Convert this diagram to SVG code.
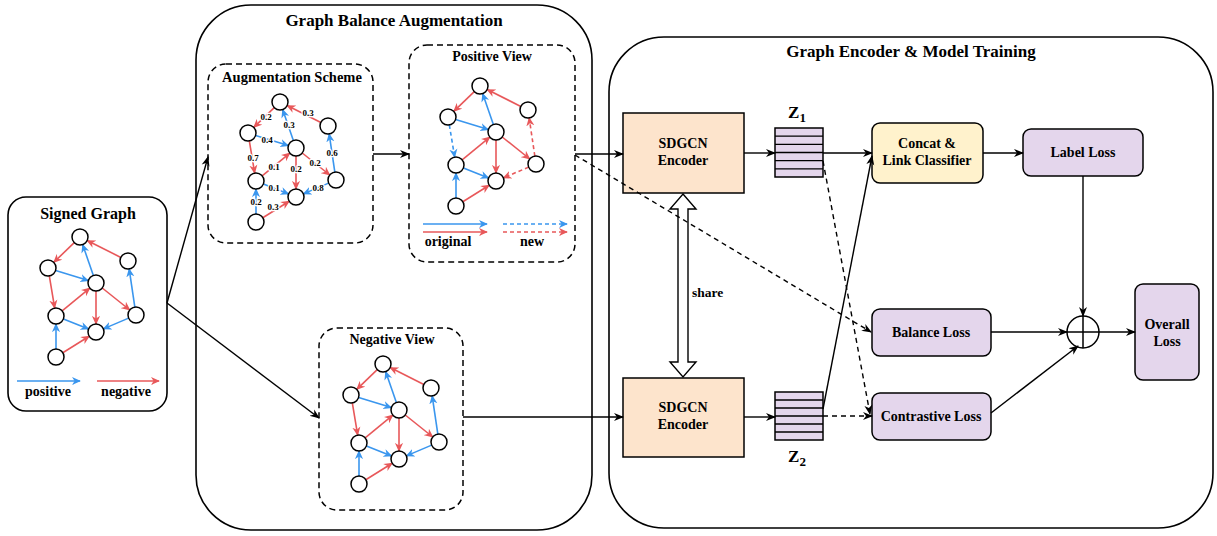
<svg xmlns="http://www.w3.org/2000/svg" width="1217" height="536" viewBox="0 0 1217 536">
<defs>
<style>
text{font-family:"Liberation Serif","Times New Roman",serif;font-weight:bold;fill:#000}
.t14{font-size:14px;text-anchor:middle}
.big{fill:none;stroke:#000;stroke-width:1.6}
.dbox{fill:none;stroke:#000;stroke-width:1.5;stroke-dasharray:6 4}
.c{fill:#fff;stroke:#000;stroke-width:1.5}
.r{stroke:#E8585A;stroke-width:1.6;fill:none;marker-end:url(#mr)}
.b{stroke:#3A96EE;stroke-width:1.6;fill:none;marker-end:url(#mb)}
.d{stroke-dasharray:4 3}
.k{stroke:#000;stroke-width:1.4;fill:none;marker-end:url(#mk)}
.kd{stroke:#000;stroke-width:1.4;fill:none;stroke-dasharray:5 4;marker-end:url(#mk)}
.lbl{font-size:9px;text-anchor:middle;stroke:#fff;stroke-width:2.5;paint-order:stroke}
.enc{fill:#FDE4CC;stroke:#000;stroke-width:1.5}
.pur{fill:#E4D6EC;stroke:#000;stroke-width:1.5}
.yel{fill:#FFF2CC;stroke:#000;stroke-width:1.5}
</style>
<marker id="mr" viewBox="0 0 10 10" refX="9" refY="5" markerWidth="9" markerHeight="9" markerUnits="userSpaceOnUse" orient="auto"><path d="M0,0.5 L10,5 L0,9.5 L3,5 z" fill="#E8585A"/></marker>
<marker id="mb" viewBox="0 0 10 10" refX="9" refY="5" markerWidth="9" markerHeight="9" markerUnits="userSpaceOnUse" orient="auto"><path d="M0,0.5 L10,5 L0,9.5 L3,5 z" fill="#3A96EE"/></marker>
<marker id="mk" viewBox="0 0 10 10" refX="9" refY="5" markerWidth="10" markerHeight="10" markerUnits="userSpaceOnUse" orient="auto"><path d="M0,1 L10,5 L0,9 L3,5 z" fill="#000"/></marker>
</defs>
<rect width="1217" height="536" fill="#fff"/>

<!-- Big containers -->
<g id="gba-container">
<rect class="big" x="196" y="5" width="396" height="525" rx="55" ry="55"/>
<text x="394" y="26" style="font-size:17px;text-anchor:middle">Graph Balance Augmentation</text>
</g>
<g id="get-container">
<rect class="big" x="609" y="37" width="604" height="491" rx="55" ry="55"/>
<text x="911" y="57" style="font-size:17px;text-anchor:middle">Graph Encoder &amp; Model Training</text>
</g>

<!-- Signed Graph -->
<g id="signed-graph">
<rect x="8" y="197" width="159" height="214" rx="18" ry="18" fill="#fff" stroke="#000" stroke-width="1.6"/>
<text x="88" y="219" style="font-size:16px;text-anchor:middle">Signed Graph</text>
<g transform="translate(80,237)">
<path class="r" d="M-5.75,5.57 L-26.25,25.43"/>
<path class="r" d="M40.84,20.42 L7.16,3.58"/>
<path class="b" d="M-24.36,33.39 L8.36,43.61"/>
<path class="b" d="M13.37,38.44 L2.63,7.56"/>
<path class="r" d="M-30.68,38.89 L-25.32,71.11"/>
<path class="r" d="M-17.83,73.91 L9.83,51.09"/>
<path class="r" d="M16,54 L16,87"/>
<path class="r" d="M22.25,51 L49.75,73"/>
<path class="b" d="M54.83,70.09 L49.17,31.91"/>
<path class="b" d="M-16.57,81.97 L8.57,92.03"/>
<path class="b" d="M48.64,81.13 L23.36,91.87"/>
<path class="b" d="M-24,112 L-24,87"/>
<path class="r" d="M-17.22,115.76 L9.22,99.24"/>
<circle class="c" cx="0" cy="0" r="8"/><circle class="c" cx="-32" cy="31" r="8"/><circle class="c" cx="48" cy="24" r="8"/><circle class="c" cx="16" cy="46" r="8"/><circle class="c" cx="-24" cy="79" r="8"/><circle class="c" cx="56" cy="78" r="8"/><circle class="c" cx="16" cy="95" r="8"/><circle class="c" cx="-24" cy="120" r="8"/>
</g>
<path class="b" d="M17,381 L80,381"/>
<path class="r" d="M97,381 L159,381"/>
<text x="48" y="396" class="t14">positive</text>
<text x="126" y="396" class="t14">negative</text>
</g>

<!-- Augmentation Scheme -->
<g id="augmentation-scheme">
<rect class="dbox" x="208" y="64" width="165" height="179" rx="18" ry="18"/>
<text x="292" y="82" style="font-size:14.5px;text-anchor:middle">Augmentation Scheme</text>
<g transform="translate(280,102)">
<path class="r" d="M-5.75,5.57 L-26.25,25.43"/>
<path class="r" d="M40.84,20.42 L7.16,3.58"/>
<path class="b" d="M-24.36,33.39 L8.36,43.61"/>
<path class="b" d="M13.37,38.44 L2.63,7.56"/>
<path class="r" d="M-30.68,38.89 L-25.32,71.11"/>
<path class="r" d="M-17.83,73.91 L9.83,51.09"/>
<path class="r" d="M16,54 L16,87"/>
<path class="r" d="M22.25,51 L49.75,73"/>
<path class="b" d="M54.83,70.09 L49.17,31.91"/>
<path class="b" d="M-16.57,81.97 L8.57,92.03"/>
<path class="b" d="M48.64,81.13 L23.36,91.87"/>
<path class="b" d="M-24,112 L-24,87"/>
<path class="r" d="M-17.22,115.76 L9.22,99.24"/>
<circle class="c" cx="0" cy="0" r="8"/><circle class="c" cx="-32" cy="31" r="8"/><circle class="c" cx="48" cy="24" r="8"/><circle class="c" cx="16" cy="46" r="8"/><circle class="c" cx="-24" cy="79" r="8"/><circle class="c" cx="56" cy="78" r="8"/><circle class="c" cx="16" cy="95" r="8"/><circle class="c" cx="-24" cy="120" r="8"/>
<text class="lbl" x="-14" y="18">0.2</text>
<text class="lbl" x="28" y="14">0.3</text>
<text class="lbl" x="-13" y="41">0.4</text>
<text class="lbl" x="9" y="26">0.3</text>
<text class="lbl" x="-27" y="59">0.7</text>
<text class="lbl" x="-6" y="68">0.1</text>
<text class="lbl" x="16" y="70">0.2</text>
<text class="lbl" x="35" y="64">0.2</text>
<text class="lbl" x="52" y="54">0.6</text>
<text class="lbl" x="-6" y="89">0.1</text>
<text class="lbl" x="38" y="89">0.8</text>
<text class="lbl" x="-24" y="103">0.2</text>
<text class="lbl" x="-7" y="108">0.3</text>
</g>
</g>

<!-- Positive View -->
<g id="positive-view">
<rect class="dbox" x="409" y="45" width="166" height="217" rx="18" ry="18"/>
<text x="492" y="61" style="font-size:14px;text-anchor:middle">Positive View</text>
<g transform="translate(480,86)">
<path class="r" d="M-5.75,5.57 L-26.25,25.43"/>
<path class="r" d="M40.84,20.42 L7.16,3.58"/>
<path class="b" d="M-24.36,33.39 L8.36,43.61"/>
<path class="b" d="M13.37,38.44 L2.63,7.56"/>
<path class="b d" d="M-30.68,38.89 L-25.32,71.11"/>
<path class="r" d="M-17.83,73.91 L9.83,51.09"/>
<path class="r" d="M16,54 L16,87"/>
<path class="r" d="M22.25,51 L49.75,73"/>
<path class="r d" d="M54.83,70.09 L49.17,31.91"/>
<path class="b" d="M-16.57,81.97 L8.57,92.03"/>
<path class="r d" d="M48.64,81.13 L23.36,91.87"/>
<path class="b" d="M-24,112 L-24,87"/>
<path class="r" d="M-17.22,115.76 L9.22,99.24"/>
<circle class="c" cx="0" cy="0" r="8"/><circle class="c" cx="-32" cy="31" r="8"/><circle class="c" cx="48" cy="24" r="8"/><circle class="c" cx="16" cy="46" r="8"/><circle class="c" cx="-24" cy="79" r="8"/><circle class="c" cx="56" cy="78" r="8"/><circle class="c" cx="16" cy="95" r="8"/><circle class="c" cx="-24" cy="120" r="8"/>
</g>
<path class="b" d="M423,224 L487,224"/>
<path class="r" d="M423,232 L487,232"/>
<path class="b d" d="M503,224 L567,224"/>
<path class="r d" d="M503,232 L567,232"/>
<text x="448" y="246" class="t14">original</text>
<text x="532" y="246" class="t14">new</text>
</g>

<!-- Negative View -->
<g id="negative-view">
<rect class="dbox" x="319" y="328" width="144" height="182" rx="18" ry="18"/>
<text x="392" y="344" style="font-size:14px;text-anchor:middle">Negative View</text>
<g transform="translate(383,364)">
<path class="r" d="M-5.75,5.57 L-26.25,25.43"/>
<path class="r" d="M40.84,20.42 L7.16,3.58"/>
<path class="b" d="M-24.36,33.39 L8.36,43.61"/>
<path class="b" d="M13.37,38.44 L2.63,7.56"/>
<path class="r" d="M-30.68,38.89 L-25.32,71.11"/>
<path class="r" d="M-17.83,73.91 L9.83,51.09"/>
<path class="r" d="M16,54 L16,87"/>
<path class="r" d="M22.25,51 L49.75,73"/>
<path class="b" d="M54.83,70.09 L49.17,31.91"/>
<path class="b" d="M-16.57,81.97 L8.57,92.03"/>
<path class="b" d="M48.64,81.13 L23.36,91.87"/>
<path class="b" d="M-24,112 L-24,87"/>
<path class="r" d="M-17.22,115.76 L9.22,99.24"/>
<circle class="c" cx="0" cy="0" r="8"/><circle class="c" cx="-32" cy="31" r="8"/><circle class="c" cx="48" cy="24" r="8"/><circle class="c" cx="16" cy="46" r="8"/><circle class="c" cx="-24" cy="79" r="8"/><circle class="c" cx="56" cy="78" r="8"/><circle class="c" cx="16" cy="95" r="8"/><circle class="c" cx="-24" cy="120" r="8"/>
</g>
</g>

<!-- Encoders -->
<g id="encoder-top">
<rect class="enc" x="623" y="113" width="121" height="80"/>
<text x="683" y="148" class="t14">SDGCN</text>
<text x="683" y="165" class="t14">Encoder</text>
</g>
<g id="encoder-bottom">
<rect class="enc" x="623" y="378" width="121" height="79"/>
<text x="683" y="412" class="t14">SDGCN</text>
<text x="683" y="429" class="t14">Encoder</text>
</g>

<!-- Z stacks -->
<g id="z1">
<rect class="pur" x="775" y="128" width="48" height="49" stroke-width="1.3"/>
<path d="M775,136.2 H823 M775,144.3 H823 M775,152.5 H823 M775,160.7 H823 M775,168.8 H823" stroke="#000" stroke-width="1.3"/>
<text x="797" y="118" style="font-size:17px;text-anchor:middle">Z<tspan font-size="13" dy="4">1</tspan></text>
</g>
<g id="z2">
<rect class="pur" x="775" y="392" width="48" height="48" stroke-width="1.3"/>
<path d="M775,400 H823 M775,408 H823 M775,416 H823 M775,424 H823 M775,432 H823" stroke="#000" stroke-width="1.3"/>
<text x="797" y="462" style="font-size:17px;text-anchor:middle">Z<tspan font-size="13" dy="4">2</tspan></text>
</g>

<!-- Right side nodes -->
<g id="concat">
<rect class="yel" x="872" y="123" width="111" height="60" rx="8" ry="8"/>
<text x="927" y="148" class="t14">Concat &amp;</text>
<text x="927" y="165" class="t14">Link Classifier</text>
</g>
<g id="label-loss">
<rect class="pur" x="1023" y="129" width="120" height="47" rx="8" ry="8"/>
<text x="1083" y="157" class="t14">Label Loss</text>
</g>
<g id="balance-loss">
<rect class="pur" x="872" y="309" width="119" height="47" rx="8" ry="8"/>
<text x="931" y="337" class="t14">Balance Loss</text>
</g>
<g id="contrastive-loss">
<rect class="pur" x="872" y="393" width="119" height="47" rx="8" ry="8"/>
<text x="931" y="421" class="t14">Contrastive Loss</text>
</g>
<g id="sum">
<circle cx="1083" cy="332" r="16" fill="#fff" stroke="#000" stroke-width="1.5"/>
<path d="M1083,316 V348 M1067,332 H1099" stroke="#000" stroke-width="1.5"/>
</g>
<g id="overall-loss">
<rect class="pur" x="1135" y="284" width="64" height="96" rx="8" ry="8"/>
<text x="1167" y="329" class="t14">Overall</text>
<text x="1167" y="346" class="t14">Loss</text>
</g>

<!-- Share arrow -->
<g id="share">
<polygon points="683,194 696,209 688,209 688,362 696,362 683,377 670,362 678,362 678,209 670,209" fill="#fff" stroke="#000" stroke-width="1.4"/>
<text x="692" y="297" style="font-size:13.5px">share</text>
</g>

<!-- Connectors -->
<g id="connectors">
<path class="k" d="M167,303 L208,157"/>
<path class="k" d="M167,303 L319,418"/>
<path class="k" d="M373,154 L409,154"/>
<path class="k" d="M575,154 L623,154"/>
<path class="k" d="M463,417 L623,417"/>
<path class="kd" d="M575,155 L871,332"/>
<path class="k" d="M744,153 L775,153"/>
<path class="k" d="M744,417 L775,417"/>
<path class="k" d="M823,153 L872,153"/>
<path class="k" d="M823,409 L872,156"/>
<path class="kd" d="M823,161 L870,414"/>
<path class="kd" d="M823,416 L872,416"/>
<path class="k" d="M983,153 L1023,153"/>
<path class="k" d="M1083,176 L1083,316"/>
<path class="k" d="M991,332 L1067,332"/>
<path class="k" d="M991,413 L1078,346"/>
<path class="k" d="M1099,332 L1135,332"/>
</g>
</svg>
